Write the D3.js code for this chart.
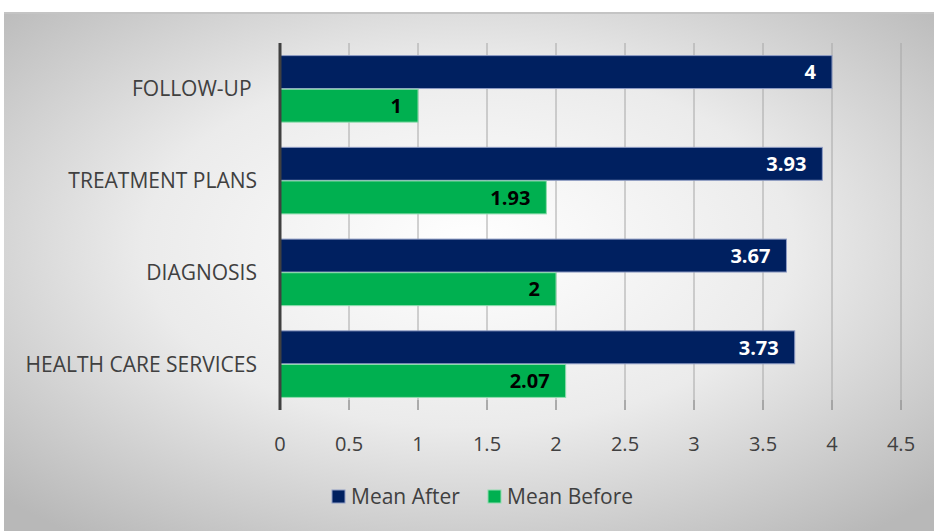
<!DOCTYPE html>
<html>
<head>
<meta charset="utf-8">
<script src="https://cdn.jsdelivr.net/npm/d3@7"></script>
<style>
  body { margin: 0; background: #fff; }
  svg { display: block; font-family: "Open Sans", Lato, sans-serif; }
</style>
</head>
<body>
<svg id="chart" width="934" height="531"></svg>
<script>
// data
var categories = ["FOLLOW-UP ", "TREATMENT PLANS", "DIAGNOSIS", "HEALTH CARE SERVICES"];
var meanAfter = [4, 3.93, 3.67, 3.73];
var meanBefore = [1, 1.93, 2, 2.07];
var afterLabels = ["4", "3.93", "3.67", "3.73"];
var beforeLabels = ["1", "1.93", "2", "2.07"];
var xTicks = [0, 0.5, 1, 1.5, 2, 2.5, 3, 3.5, 4, 4.5];
var seriesNames = ["Mean After", "Mean Before"];

var svg = d3.select("#chart");
const width = +svg.attr("width"), height = +svg.attr("height");

var defs = svg.append("defs");
var grad = defs.append("radialGradient")
    .attr("id", "bg")
    .attr("cx", "50%").attr("cy", "45%").attr("r", "70%");
grad.append("stop").attr("offset", "0%").attr("stop-color", "#ffffff");
grad.append("stop").attr("offset", "50%").attr("stop-color", "#ebebeb");
grad.append("stop").attr("offset", "100%").attr("stop-color", "#b8b8b8");

// chart background box
svg.append("rect")
    .attr("x", 4).attr("y", 12)
    .attr("width", width - 4).attr("height", height - 12)
    .attr("fill", "url(#bg)");
svg.append("line")
    .attr("x1", 4).attr("x2", width).attr("y1", 13).attr("y2", 13)
    .attr("stroke", "#c4c4c4").attr("stroke-width", 2);

var margin = {left: 280, right: 32, top: 43, bottom: 121};
var x = d3.scaleLinear().domain([0, 4.5]).range([margin.left, 901]);
var y = d3.scaleBand().domain(categories)
    .range([margin.top, height - margin.bottom])
    .paddingInner(0.26).paddingOuter(0.13);
var sub = d3.scaleBand().domain(seriesNames).range([0, y.bandwidth()]).padding(0.02);

// gridlines
svg.append("g")
    .selectAll("line")
    .data(xTicks.slice(1))
    .enter().append("line")
    .attr("x1", d => x(d)).attr("x2", d => x(d))
    .attr("y1", margin.top).attr("y2", height - margin.bottom)
    .attr("stroke", "#a6a6a6").attr("stroke-width", 1);

// tick marks below plot
svg.append("g")
    .selectAll("line")
    .data(xTicks.slice(1))
    .enter().append("line")
    .attr("x1", d => x(d)).attr("x2", d => x(d))
    .attr("y1", height - margin.bottom - 10).attr("y2", height - margin.bottom)
    .attr("stroke", "#8c8c8c").attr("stroke-width", 1);

// tick labels
svg.append("g")
    .selectAll("text")
    .data(xTicks)
    .enter().append("text")
    .attr("x", d => x(d))
    .attr("y", 451)
    .attr("text-anchor", "middle")
    .attr("font-size", 20)
    .attr("fill", "#404040")
    .text(d => d);

var rows = categories.map(function(c, i) {
    return {cat: c, vals: [
        {s: "Mean After", v: meanAfter[i], label: afterLabels[i]},
        {s: "Mean Before", v: meanBefore[i], label: beforeLabels[i]}
    ]};
});
var color = d3.scaleOrdinal().domain(seriesNames).range(["#002060", "#00b050"]);
var edge = d3.scaleOrdinal().domain(seriesNames).range(["#8e9cc4", "#8fdcae"]);
var textColor = d3.scaleOrdinal().domain(seriesNames).range(["#ffffff", "#000000"]);

var group = svg.append("g").selectAll("g")
    .data(rows)
    .enter().append("g")
    .attr("transform", d => "translate(0," + y(d.cat) + ")");

group.selectAll("rect")
    .data(d => d.vals)
    .enter().append("rect")
    .attr("x", x(0))
    .attr("y", d => sub(d.s))
    .attr("width", d => x(d.v) - x(0))
    .attr("height", sub.bandwidth())
    .attr("fill", d => color(d.s))
    .attr("stroke", d => edge(d.s))
    .attr("stroke-width", 1);

group.selectAll("text")
    .data(d => d.vals)
    .enter().append("text")
    .attr("x", d => x(d.v) - 16)
    .attr("y", d => sub(d.s) + sub.bandwidth() / 2)
    .attr("dy", "0.36em")
    .attr("text-anchor", "end")
    .attr("font-size", 20)
    .attr("font-weight", "bold")
    .attr("fill", d => textColor(d.s))
    .text(d => d.label);

// category labels (trailing space kept like the original)
svg.append("g")
    .selectAll("text")
    .data(categories)
    .enter().append("text")
    .attr("x", 257)
    .attr("y", d => y(d) + y.bandwidth() / 2)
    .attr("dy", "0.36em")
    .attr("text-anchor", "end")
    .attr("font-size", 21)
    .attr("fill", "#404040")
    .style("white-space", "pre")
    .text(d => d);

// vertical axis line
svg.append("line")
    .attr("x1", x(0)).attr("x2", x(0))
    .attr("y1", margin.top).attr("y2", height - margin.bottom)
    .attr("stroke", "#404040").attr("stroke-width", 3);

// legend
var legend = svg.append("g").attr("transform", "translate(332,496)");
var legendX = [0, 156];
seriesNames.forEach(function(s, i) {
    var g = legend.append("g").attr("transform", "translate(" + legendX[i] + ",0)");
    g.append("rect")
        .attr("x", 0).attr("y", -6)
        .attr("width", 13).attr("height", 13)
        .attr("fill", color(s))
        .attr("stroke", edge(s));
    g.append("text")
        .attr("x", 19).attr("y", 0)
        .attr("dy", "0.36em")
        .attr("font-size", 21)
        .attr("fill", "#404040")
        .text(s);
});
</script>
</body>
</html>
